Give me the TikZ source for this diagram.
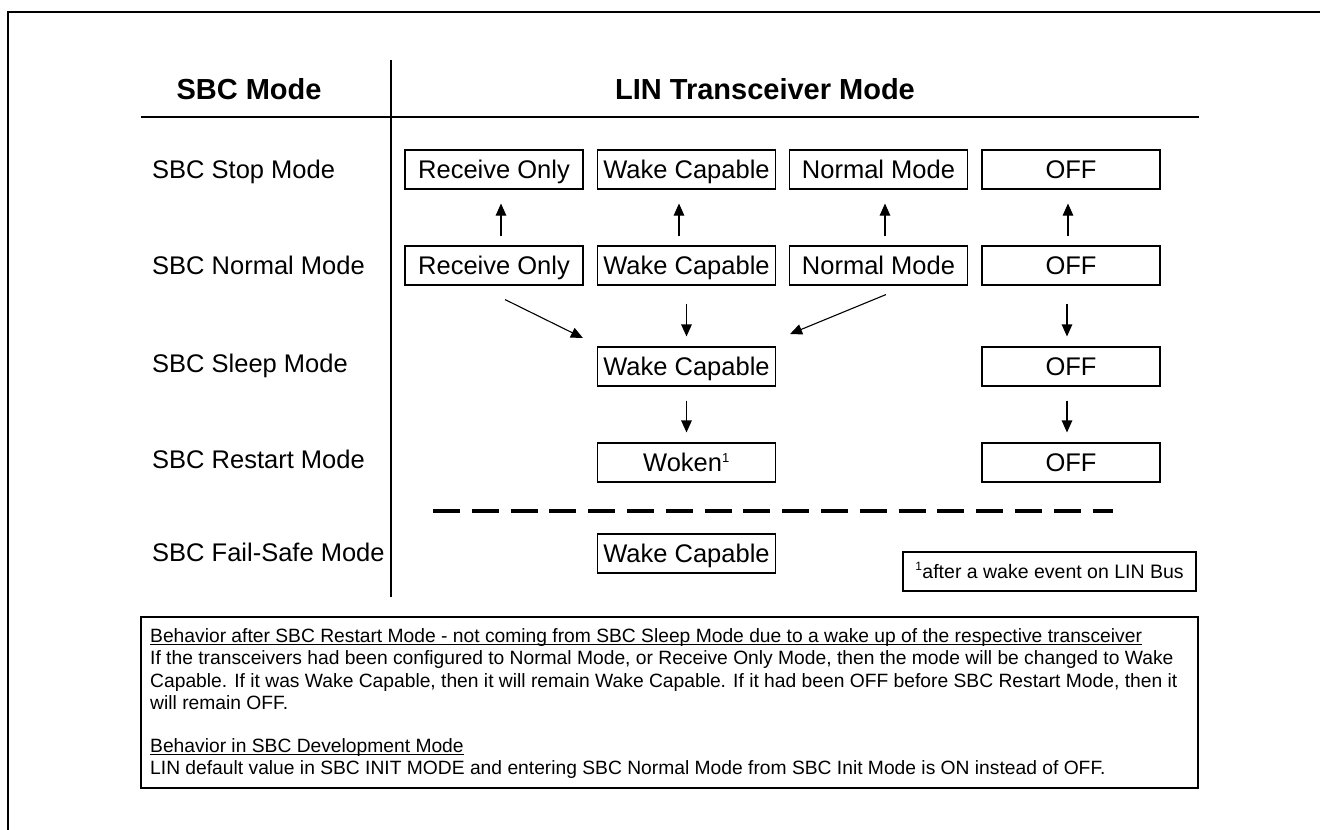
\documentclass[tikz,border=0pt]{standalone}
\usepackage{fontspec}
\setmainfont{Liberation Sans}
\usetikzlibrary{arrows.meta,calc}
\tikzset{
  mbox/.style={draw, line width=1.1pt, minimum width=178pt, minimum height=39pt, inner sep=0pt, text height=18.3pt, text depth=0pt, font=\fontsize{25.5}{30}\selectfont},
  rowlab/.style={anchor=west, inner sep=0pt, text height=18.3pt, text depth=0pt, font=\fontsize{25.5}{30}\selectfont},
  hdr/.style={inner sep=0pt, text height=20.8pt, text depth=0pt, font=\fontsize{29}{34}\selectfont\bfseries},
  arr/.style={line width=1.1pt, -{Triangle[length=12pt,width=10.5pt]}},
  rule/.style={line width=1.4pt},
  btext/.style={anchor=base west, inner sep=0pt, font=\fontsize{19.25}{22}\selectfont},
  uline/.style={line width=1pt},
}
\begin{document}
\begin{tikzpicture}[x=1pt,y=-1pt]
\useasboundingbox (0,0) rectangle (1320,830);
% outer frame
\draw[rule] (1320,12) -- (8,12) -- (8,830);
% headers
\node[hdr] (hS) at (249,89) {SBC Mode};
\node[hdr] (hL) at (765,89) {LIN Transceiver Mode};
\draw[rule] (141,117) -- (1199,117);
\draw[rule] (391,60) -- (391,597);
% row labels
\node[rowlab] (l1) at (152,169.5) {SBC Stop Mode};
\node[rowlab] (l2) at (152,265.5) {SBC Normal Mode};
\node[rowlab] (l3) at (152,363) {SBC Sleep Mode};
\node[rowlab] (l4) at (152,459) {SBC Restart Mode};
\node[rowlab] (l5) at (152,552) {SBC Fail-Safe Mode};
% row 1
\node[mbox] (sRO) at (494,169.5) {Receive Only};
\node[mbox] (sWC) at (686.5,169.5) {Wake Capable};
\node[mbox] (sNM) at (878.5,169.5) {Normal Mode};
\node[mbox] (sOF) at (1071,169.5) {OFF};
% row 2
\node[mbox] (nRO) at (494,265.5) {Receive Only};
\node[mbox] (nWC) at (686.5,265.5) {Wake Capable};
\node[mbox] (nNM) at (878.5,265.5) {Normal Mode};
\node[mbox] (nOF) at (1071,265.5) {OFF};
% row 3
\node[mbox] (slW) at (686.5,366.5) {Wake Capable};
\node[mbox] (slO) at (1071,366.5) {OFF};
% row 4
\node[mbox] (rW) at (686.5,462.5) {Woken\textsuperscript{\fontsize{13}{13}\selectfont 1}};
\node[mbox] (rO) at (1071,462.5) {OFF};
% row 5
\node[mbox] (fW) at (686.5,553.5) {Wake Capable};
% footnote
\node[draw, line width=1.1pt, minimum width=293pt, minimum height=39pt, inner sep=0pt, text height=14pt, text depth=0pt, font=\fontsize{19.5}{23}\selectfont] (fn) at (1049.5,571.5) {\textsuperscript{\fontsize{12}{12}\selectfont 1}after a wake event on LIN Bus};
% up arrows
\draw[arr, shorten <=9pt, shorten >=14pt] ([xshift=7pt]nRO.north) -- ([xshift=7pt]sRO.south);
\draw[arr, shorten <=9pt, shorten >=14pt] ([xshift=-7.5pt]nWC.north) -- ([xshift=-7.5pt]sWC.south);
\draw[arr, shorten <=9pt, shorten >=14pt] ([xshift=6.5pt]nNM.north) -- ([xshift=6.5pt]sNM.south);
\draw[arr, shorten <=9pt, shorten >=14pt] ([xshift=-3pt]nOF.north) -- ([xshift=-3pt]sOF.south);
% down arrows
\draw[arr, shorten <=18pt, shorten >=10pt] (nWC.south) -- (slW.north);
\draw[arr, shorten <=18pt, shorten >=10pt] ([xshift=-4pt]nOF.south) -- ([xshift=-4pt]slO.north);
\draw[arr, shorten <=14pt, shorten >=10pt] (slW.south) -- (rW.north);
\draw[arr, shorten <=14pt, shorten >=10pt] ([xshift=-4pt]slO.south) -- ([xshift=-4pt]rO.north);
% diagonal arrows
\draw[arr] ($(nRO.south)+(11,14)$) -- ($(slW.west)+(-14,-28.5)$);
\draw[arr] ($(nNM.south)+(7.5,9)$) -- ($(slW.east)+(14,-32.5)$);
% dashed separator
\draw[line width=4pt, dash pattern=on 27pt off 11.8pt] (433,511) -- (1113,511);
% bottom text box
\node[draw, line width=1.3pt, minimum width=1057pt, minimum height=171pt, inner sep=0pt] (tb) at (669.5,702.5) {};
\node[btext] (t1) at (150,642) {Behavior after SBC Restart Mode - not coming from SBC Sleep Mode due to a wake up of the respective transceiver};
\draw[uline] ($(t1.base west)+(0,2.5)$) -- ($(t1.base east)+(0,2.5)$);
\node[btext] (t2) at (150,664.5) {If the transceivers had been configured to Normal Mode, or Receive Only Mode, then the mode will be changed to Wake};
\node[btext] (t3) at (150,687) {Capable. If it was Wake Capable, then it will remain Wake Capable. If it had been OFF before SBC Restart Mode, then it};
\node[btext] (t4) at (150,709.5) {will remain OFF.};
\node[btext] (t5) at (150,752) {Behavior in SBC Development Mode};
\draw[uline] ($(t5.base west)+(0,2.5)$) -- ($(t5.base east)+(0,2.5)$);
\node[btext] (t6) at (150,774) {LIN default value in SBC INIT MODE and entering SBC Normal Mode from SBC Init Mode is ON instead of OFF.};
\end{tikzpicture}
\end{document}
